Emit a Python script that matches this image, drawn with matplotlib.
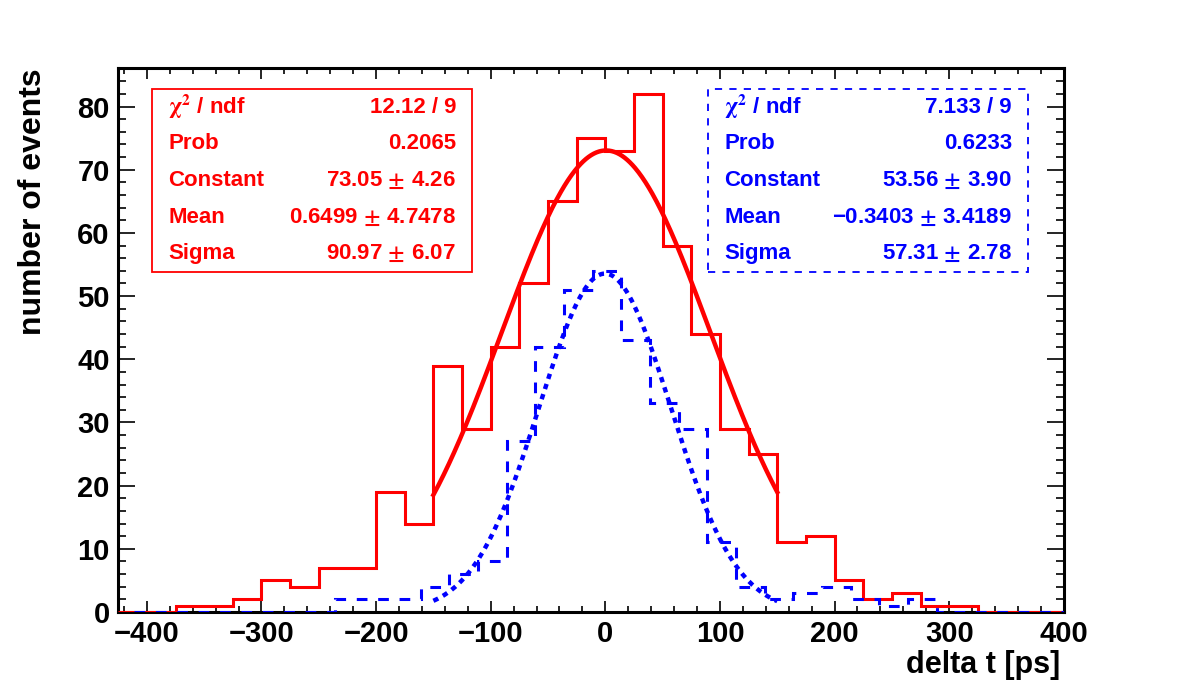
import numpy as np
import matplotlib
matplotlib.use("Agg")
import matplotlib.pyplot as plt
from matplotlib.patches import Rectangle
from matplotlib.ticker import MultipleLocator

plt.rcParams['font.family'] = ['Liberation Sans', 'DejaVu Sans']
plt.rcParams['font.weight'] = 'bold'
plt.rcParams['mathtext.fontset'] = 'stix'

# red histogram: 25 ps bins from -425 to 400
red_lo, red_w = -425, 25
red_counts = [0, 0, 1, 1, 2, 5, 4, 7, 7, 19, 14, 39, 29, 42, 52, 65, 75,
              73, 82, 58, 44, 29, 25, 11, 12, 5, 2, 3, 1, 1, 0, 0, 0]
# blue histogram: 25 ps bins from -411 to 414
blue_lo, blue_w = -411, 25
blue_counts = [0, 0, 0, 0, 0, 0, 0, 2, 2, 2, 4, 6, 8, 27, 42, 51, 54,
               43, 33, 29, 11, 4, 2, 3, 4, 2, 1, 2, 0, 0, 0, 0, 0]

# gaussian fit results (constant, mean, sigma), fit range
red_fit = (73.05, 0.6499, 90.97)
blue_fit = (53.56, -0.3403, 57.31)
fit_range = (-150, 150)

chi_lab = r'$\mathrm{\chi}^{2}$ / ndf'
red_stats = [(chi_lab, '12.12 / 9'), ('Prob', '0.2065'),
             ('Constant', '73.05 $\\pm$ 4.26'), ('Mean', '0.6499 $\\pm$ 4.7478'),
             ('Sigma', '90.97 $\\pm$ 6.07')]
blue_stats = [(chi_lab, '7.133 / 9'), ('Prob', '0.6233'),
              ('Constant', '53.56 $\\pm$ 3.90'), ('Mean', '\u22120.3403 $\\pm$ 3.4189'),
              ('Sigma', '57.31 $\\pm$ 2.78')]

W, H = 1182, 680
fig = plt.figure(figsize=(W / 100, H / 100), dpi=100)
ax = fig.add_axes([0.1, 0.1, 0.8, 0.8])

red_edges = red_lo + red_w * np.arange(len(red_counts) + 1)
blue_edges = blue_lo + blue_w * np.arange(len(blue_counts) + 1)
ax.stairs(red_counts, red_edges, color='#ff0000', lw=2.2, baseline=None, zorder=3)
ax.stairs(blue_counts, blue_edges, color='#0000ff', lw=2.2, baseline=None,
          linestyle=(0, (3.5, 3.5)), zorder=3)

xf = np.linspace(fit_range[0], fit_range[1], 400)
def gaus(p, x):
    return p[0] * np.exp(-0.5 * ((x - p[1]) / p[2]) ** 2)
ax.plot(xf, gaus(red_fit, xf), color='#ff0000', lw=3.2, zorder=3)
ax.plot(xf, gaus(blue_fit, xf), color='#0000ff', lw=3.2,
        linestyle=(0, (1.2, 1.2)), zorder=3)

ax.set_xlim(-425, 400)
ax.set_ylim(0, 86.1)
ax.set_xticks(np.arange(-400, 401, 100))
ax.set_yticks(np.arange(0, 81, 10))
ax.xaxis.set_minor_locator(MultipleLocator(20))
ax.yaxis.set_minor_locator(MultipleLocator(2))
ax.tick_params(axis='both', which='both', direction='in', top=True, right=True,
               width=1.2, labelsize=21)
ax.tick_params(axis='x', which='major', length=8, pad=6)
ax.tick_params(axis='x', which='minor', length=4)
ax.tick_params(axis='y', which='major', length=12, pad=6)
ax.tick_params(axis='y', which='minor', length=6)
for s in ax.spines.values():
    s.set_linewidth(2.2)

def fx(x):
    return x / W
def fy(y):
    return 1 - y / H

fig.text(fx(1060), fy(665), 'delta t [ps]', ha='right', va='center', fontsize=22)
fig.text(fx(33), fy(68), 'number of events', ha='center', va='top',
         rotation=90, fontsize=23)

def stats_box(x0, x1, y0, y1, rows, color, ls):
    fig.add_artist(Rectangle((fx(x0), fy(y1)), fx(x1 - x0), (y1 - y0) / H,
                             transform=fig.transFigure, fill=False,
                             edgecolor=color, lw=1.3, linestyle=ls))
    dy = (y1 - y0) / len(rows)
    for i, (lab, val) in enumerate(rows):
        yc = y0 + dy * (i + 0.5)
        fig.text(fx(x0 + 16), fy(yc), lab, ha='left', va='center',
                 color=color, fontsize=16)
        fig.text(fx(x1 - 16), fy(yc), val, ha='right', va='center',
                 color=color, fontsize=16)

stats_box(152, 472, 89, 272, red_stats, '#ff0000', '-')
stats_box(708, 1028, 89, 272, blue_stats, '#0000ff', (0, (4, 4)))

fig.savefig('out.png', dpi=100)
